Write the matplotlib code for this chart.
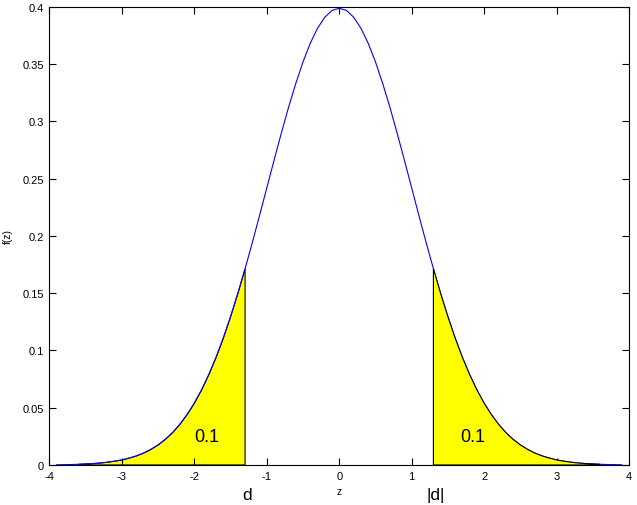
import matplotlib
matplotlib.use("Agg")
import matplotlib.pyplot as plt
import numpy as np

plt.rcParams['font.family'] = ['Liberation Sans', 'DejaVu Sans']

# curve, z from -3.9 to 3.9 in steps of 0.1
z_vals = [-3.9, -3.8, -3.7, -3.6, -3.5, -3.4, -3.3, -3.2, -3.1, -3.0,
          -2.9, -2.8, -2.7, -2.6, -2.5, -2.4, -2.3, -2.2, -2.1, -2.0,
          -1.9, -1.8, -1.7, -1.6, -1.5, -1.4, -1.3, -1.2, -1.1, -1.0,
          -0.9, -0.8, -0.7, -0.6, -0.5, -0.4, -0.3, -0.2, -0.1, 0.0,
          0.1, 0.2, 0.3, 0.4, 0.5, 0.6, 0.7, 0.8, 0.9, 1.0,
          1.1, 1.2, 1.3, 1.4, 1.5, 1.6, 1.7, 1.8, 1.9, 2.0,
          2.1, 2.2, 2.3, 2.4, 2.5, 2.6, 2.7, 2.8, 2.9, 3.0,
          3.1, 3.2, 3.3, 3.4, 3.5, 3.6, 3.7, 3.8, 3.9]
f_vals = [0.0002, 0.0003, 0.0004, 0.0006, 0.0009, 0.0012, 0.0017, 0.0024, 0.0033, 0.0044,
          0.0060, 0.0079, 0.0104, 0.0136, 0.0175, 0.0224, 0.0283, 0.0355, 0.0440, 0.0540,
          0.0656, 0.0790, 0.0940, 0.1109, 0.1295, 0.1497, 0.1714, 0.1942, 0.2179, 0.2420,
          0.2661, 0.2897, 0.3123, 0.3332, 0.3521, 0.3683, 0.3814, 0.3910, 0.3970, 0.3989,
          0.3970, 0.3910, 0.3814, 0.3683, 0.3521, 0.3332, 0.3123, 0.2897, 0.2661, 0.2420,
          0.2179, 0.1942, 0.1714, 0.1497, 0.1295, 0.1109, 0.0940, 0.0790, 0.0656, 0.0540,
          0.0440, 0.0355, 0.0283, 0.0224, 0.0175, 0.0136, 0.0104, 0.0079, 0.0060, 0.0044,
          0.0033, 0.0024, 0.0017, 0.0012, 0.0009, 0.0006, 0.0004, 0.0003, 0.0002]

# cut point of the shaded tails and where the shading ends
d = -1.3
tail_end = 3.6
tail_area = '0.1'

z = np.array(z_vals)
f = np.array(f_vals)

fig = plt.figure(figsize=(6.37, 5.06), dpi=100)
ax = fig.add_axes([0.0777, 0.0791, 0.9097, 0.9051])

# left tail (under the curve), right tail (on top of it)
m = (z >= -tail_end - 1e-9) & (z <= d + 1e-9)
xl = np.concatenate([[z[m][0]], z[m], [z[m][-1]]])
yl = np.concatenate([[0], f[m], [0]])
ax.fill(xl, yl, facecolor='yellow', edgecolor='black', linewidth=0.8, zorder=1)

ax.plot(z, f, color='blue', linewidth=0.8, zorder=2)

m = (z >= -d - 1e-9) & (z <= tail_end + 1e-9)
xr = np.concatenate([[z[m][0]], z[m], [z[m][-1]]])
yr = np.concatenate([[0], f[m], [0]])
ax.fill(xr, yr, facecolor='yellow', edgecolor='black', linewidth=0.8, zorder=3)

ax.text(-1.83, 0.0253, tail_area, fontsize=13, ha='center', va='center')
ax.text(1.85, 0.0253, tail_area, fontsize=13, ha='center', va='center')
ax.text(-1.27, -0.0255, 'd', fontsize=12.5, ha='center', va='center')
ax.text(1.33, -0.0255, '|d|', fontsize=12.5, ha='center', va='center')

ax.set_xlim(-4, 4)
ax.set_ylim(0, 0.4)
ax.set_xticks(np.arange(-4, 5, 1))
ax.set_xticklabels([str(v) for v in range(-4, 5)])
yt = [0, 0.05, 0.1, 0.15, 0.2, 0.25, 0.3, 0.35, 0.4]
ax.set_yticks(yt)
ax.set_yticklabels(['0', '0.05', '0.1', '0.15', '0.2', '0.25', '0.3', '0.35', '0.4'])
ax.tick_params(direction='in', length=5, width=0.8, labelsize=8,
               top=True, right=True, pad=4)
for s in ax.spines.values():
    s.set_linewidth(0.8)

ax.set_xlabel('z', fontsize=7.5, labelpad=4)
ax.set_ylabel('f(z)', fontsize=7.5, labelpad=7)

fig.savefig('out.png', dpi=100)
